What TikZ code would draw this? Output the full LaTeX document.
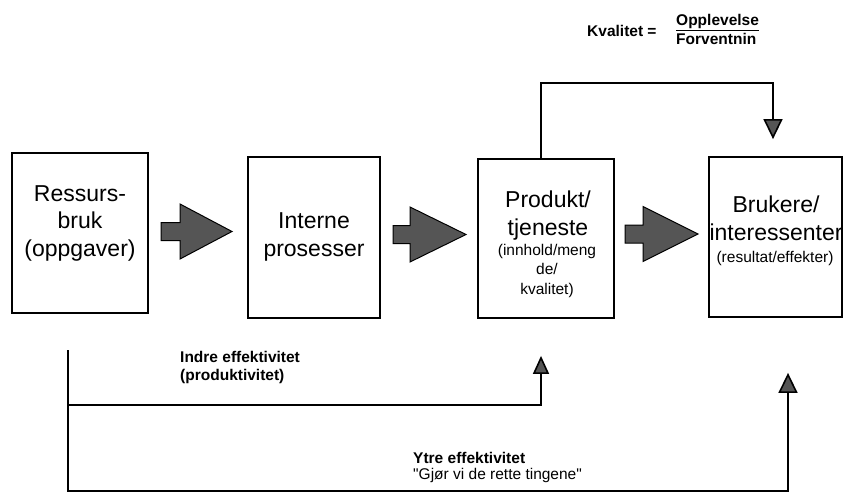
\documentclass[tikz,border=0pt]{standalone}
\usepackage{fontspec}
\setmainfont{Liberation Sans}
\usetikzlibrary{arrows.meta,calc}
\definecolor{arrowgray}{HTML}{555555}
\begin{document}
\begin{tikzpicture}[x=1pt,y=-1pt,
  box/.style={draw, line width=1.8pt, inner sep=0pt},
  bigtxt/.style={align=center, inner sep=0pt, anchor=base, font=\fontsize{23}{27.5}\selectfont},
  smalltxt/.style={align=center, inner sep=0pt, anchor=base, font=\fontsize{15.5}{19.5}\selectfont},
  boldlbl/.style={align=left, inner sep=0pt, anchor=base west, font=\fontsize{15.5}{17.5}\selectfont\bfseries},
  plainlbl/.style={inner sep=0pt, anchor=base west, font=\fontsize{15.5}{17.5}\selectfont\addfontfeatures{Ligatures=TeXOff}},
  blockarrow/.style={fill=arrowgray, draw=black, line width=1pt, line join=miter},
  conn/.style={line width=1.6pt},
  tipA/.style={-{Triangle[length=18pt,width=16pt,fill=arrowgray]}},
  tipB/.style={-{Triangle[length=20pt,width=19pt,fill=arrowgray]}}
]
\useasboundingbox (0,0) rectangle (843,495);

% boxes
\node[box, minimum width=136pt, minimum height=160pt] (b1) at (80,233) {};
\node[box, minimum width=132pt, minimum height=161pt] (b2) at (314,237.5) {};
\node[box, minimum width=136pt, minimum height=159pt] (b3) at (546,238.5) {};
\node[box, minimum width=133pt, minimum height=160pt] (b4) at (775.5,237) {};

% box texts (anchor = baseline of last line)
\node[bigtxt] (t1) at (80,256) {Ressurs-\\bruk\\(oppgaver)};
\node[bigtxt] (t2) at (314,256) {Interne\\prosesser};
\node[bigtxt] (t3) at (548,235) {Produkt/\\tjeneste};
\node[smalltxt] (t3s) at (547,294) {(innhold/meng\\de/\\kvalitet)};
\node[bigtxt] (t4) at (776,240) {Brukere/\\interessenter};
\node[smalltxt] (t4s) at (775,262) {(resultat/effekter)};

% block arrows
\newcommand\blockarr[4]{%
  \draw[blockarrow] (#1,#4-9) -- (#2,#4-9) -- (#2,#4-27.5) -- (#3,#4)
    -- (#2,#4+27.5) -- (#2,#4+9) -- (#1,#4+9) -- cycle;}
\blockarr{161}{180}{232}{231.5}
\blockarr{393}{410}{466}{234.5}
\blockarr{625}{643}{698}{234}

% quality formula
\node[boldlbl] (kv) at (587,37) {Kvalitet =};
\node[boldlbl] (op) at (676,26) {\underline{Opplevelse}};
\node[boldlbl] (fo) at (676,45) {Forventnin};

% top feedback connector
\coordinate (topL) at ($(b3.north)+(-5,0)$);
\coordinate (topTip) at ($(b4.north)+(-2.5,-17)$);
\draw[conn, tipB] (topL) |- (topTip |- 0,83) -- (topTip);

% indre effektivitet
\coordinate (start) at (68,350);
\coordinate (inTip) at ($(b3.south)+(-5,37)$);
\draw[conn, tipA] (start) |- (inTip |- 0,405) -- (inTip);
\node[boldlbl] (indre) at (180,380) {Indre effektivitet\\(produktivitet)};

% ytre effektivitet
\coordinate (outTip) at ($(b4.south)+(12.5,55)$);
\draw[conn, tipB] (start) |- (outTip |- 0,491) -- (outTip);
\node[boldlbl] (ytre) at (413,463) {Ytre effektivitet};
\node[plainlbl] (gjor) at (413,479.5) {"Gjør vi de rette tingene"};
\end{tikzpicture}
\end{document}
